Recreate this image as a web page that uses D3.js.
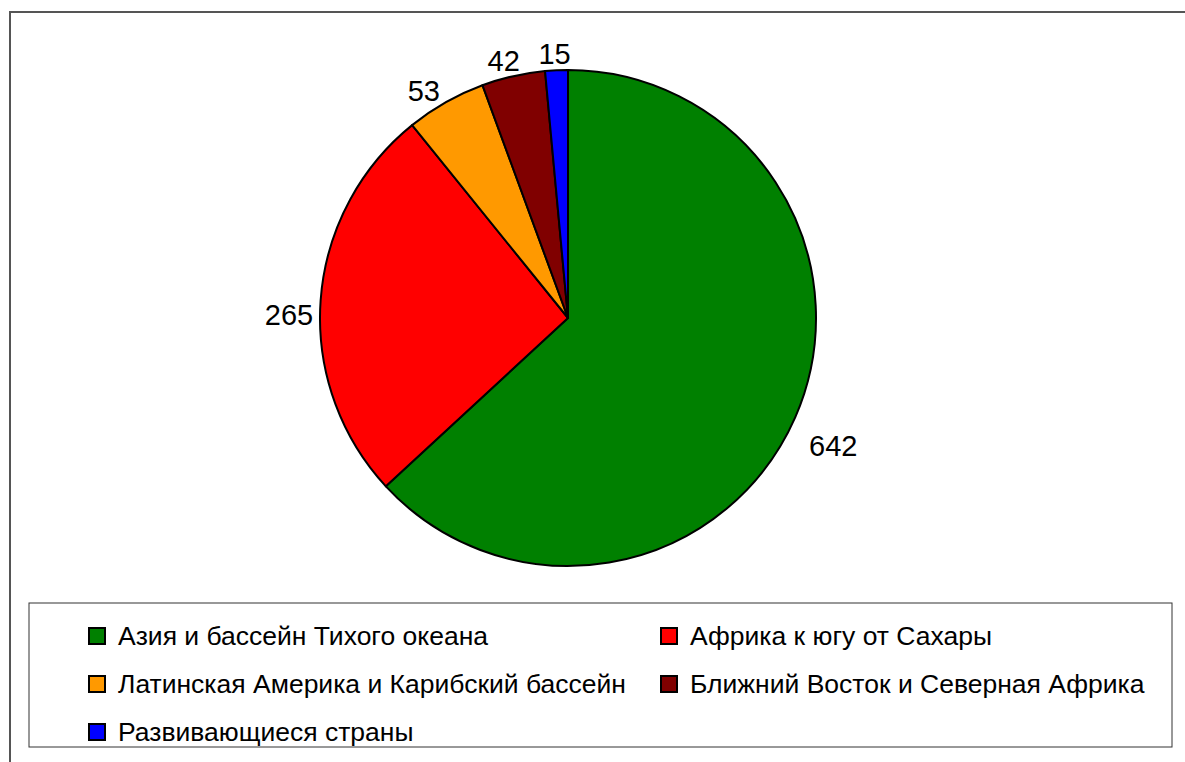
<!DOCTYPE html>
<html>
<head>
<meta charset="utf-8">
<script src="https://cdn.jsdelivr.net/npm/d3@7"></script>
<style>
  body { margin: 0; background: #fff; }
  text { font-family: "Liberation Sans", Arial, sans-serif; fill: #000; }
</style>
</head>
<body>
<div id="container"></div>
<script>
// data
const regions = [
  "Азия и бассейн Тихого океана",
  "Африка к югу от Сахары",
  "Латинская Америка и Карибский бассейн",
  "Ближний Восток и Северная Африка",
  "Развивающиеся страны"
]
const values = [642, 265, 53, 42, 15]
const colours = ["#008000", "#ff0000", "#ff9900", "#800000", "#0000ff"]

const width = 1185, height = 762
const cx = 568, cy = 318, radius = 248

const svg = d3.select("#container").append("svg")
  .attr("width", width)
  .attr("height", height)

// outer frame, runs off the right and bottom edges
svg.append("rect")
  .attr("x", 10).attr("y", 12)
  .attr("width", 1300).attr("height", 900)
  .attr("fill", "none")
  .attr("stroke", "#555")
  .attr("stroke-width", 2)

const pie = d3.pie().sort(null).value(d => d)
const arcs = pie(values)
const arc = d3.arc().innerRadius(0).outerRadius(radius)

const g = svg.append("g").attr("transform", `translate(${cx},${cy})`)

g.selectAll("path")
  .data(arcs)
  .enter()
  .append("path")
    .attr("d", arc)
    .attr("fill", (d, i) => colours[i])
    .attr("stroke", "#000")
    .attr("stroke-width", 2)
    .attr("stroke-linejoin", "round")

// value labels outside the pie, pushed out by half their box
// (plus a small sideways/downward drift like the original has)
const labels = g.selectAll("text.val")
  .data(arcs)
  .enter()
  .append("text")
    .attr("class", "val")
    .attr("text-anchor", "middle")
    .attr("dominant-baseline", "central")
    .style("font-size", "29px")
    .text(d => d.value)

labels.each(function(d) {
  const a = (d.startAngle + d.endAngle) / 2
  const w = this.getComputedTextLength()
  const h = 22
  const s = Math.sin(a), c = Math.cos(a)
  const r = radius + 5 + Math.abs(s) * w / 2 + Math.abs(c) * h / 2
  d3.select(this)
    .attr("x", s * r + 25 * s * Math.abs(c))
    .attr("y", -c * r + 17 * Math.abs(s))
})

// legend
svg.append("rect")
  .attr("x", 29).attr("y", 603)
  .attr("width", 1143).attr("height", 144)
  .attr("fill", "none")
  .attr("stroke", "#333")
  .attr("stroke-width", 1)

const colX = [88, 660]
const rowY = [636, 684, 732]
const item = svg.selectAll("g.item")
  .data(regions)
  .enter()
  .append("g")
    .attr("class", "item")
    .attr("transform", (d, i) => `translate(${colX[i % 2]},${rowY[Math.floor(i / 2)]})`)

item.append("rect")
  .attr("x", 1).attr("y", -8)
  .attr("width", 16).attr("height", 16)
  .attr("fill", (d, i) => colours[i])
  .attr("stroke", "#000")
  .attr("stroke-width", 2)

item.append("text")
  .attr("x", 30)
  .attr("dominant-baseline", "central")
  .style("font-size", "26.5px")
  .text(d => d)
</script>
</body>
</html>
